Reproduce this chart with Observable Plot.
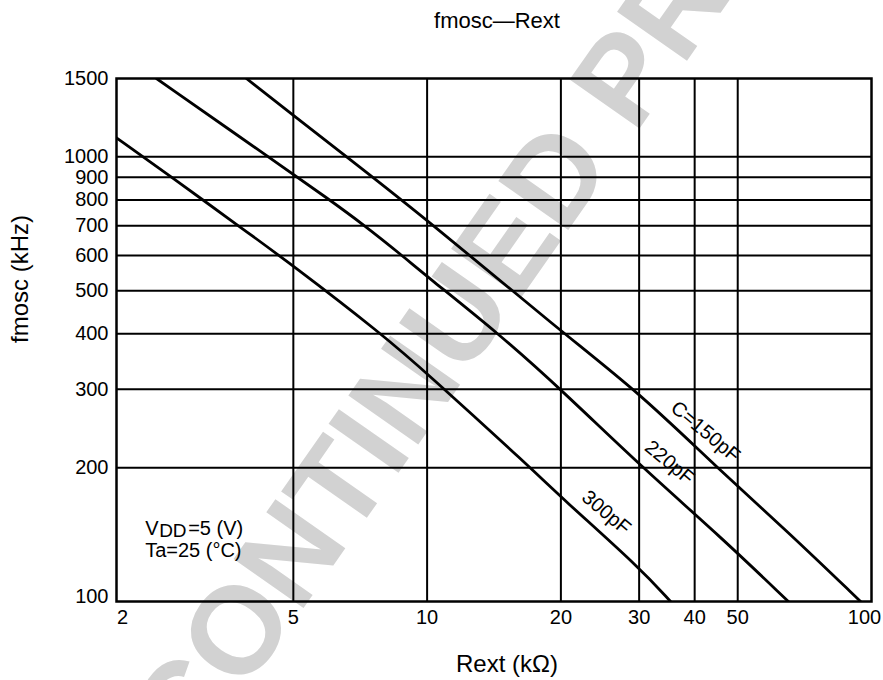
<!DOCTYPE html>
<html><head><meta charset="utf-8">
<script src="https://cdn.jsdelivr.net/npm/d3@7"></script>
<script src="https://cdn.jsdelivr.net/npm/@observablehq/plot@0.6"></script>
<style>html,body{margin:0;padding:0;background:#fff}svg{display:block}</style>
</head><body><div id="chart"></div>
<script>
// Curve data (Rext in kΩ, fmosc in kHz)
const c150R = [3.92, 5, 6.59, 10, 20, 30, 44.9, 64.6, 94.5];
const c150F = [1500, 1240, 1000, 722, 405, 295, 200, 144, 100];
const c220R = [2.46, 4.39, 6.04, 7.24, 8.78, 10, 14.5, 20, 30.5, 45.7, 65];
const c220F = [1500, 1000, 800, 700, 600, 538, 400, 300, 200, 140, 100];
const c300R = [2, 2.66, 3.76, 5, 7.89, 10, 17.08, 20, 30, 35.3];
const c300F = [1103, 900, 700, 569, 400, 326, 200, 171.6, 119.4, 100];
const seriesNames = ["150pF", "220pF", "300pF"];

// Axis ticks and grid
const xTicks = [2, 5, 10, 20, 30, 40, 50, 100];
const yTicks = [100, 200, 300, 400, 500, 600, 700, 800, 900, 1000, 1500];
const xGrid = [5, 10, 20, 30, 40, 50];
const yGrid = [200, 300, 400, 500, 600, 700, 800, 900, 1000];

// Curve labels
const curveLabels = ["C=150pF", "220pF", "300pF"];
const labelR = [42.3, 35.1, 25.3];
const labelF = [241, 205.4, 158.5];

// Conditions note
const noteR = [2.32];
const noteF1 = [146];
const noteF2 = [130];

// Texts
const titleText = "fmosc—Rext";
const xLabel = "Rext (kΩ)";
const yLabel = "fmosc (kHz)";
const stampText = ["DISCONTINUED PRODUCT"];
const stampR = [14.4];
const stampF = [580];

const rows = [];
[[c150R, c150F], [c220R, c220F], [c300R, c300F]].forEach(([R, F], k) => {
  R.forEach((r, i) => rows.push({c: seriesNames[k], r, f: F[i]}));
});

const font = "'Liberation Sans', Arial, Helvetica, sans-serif";
const fmt = d => String(d);
const axisOpts = {tickSize: 0, tickPadding: 8, fontSize: 20, tickFormat: fmt, label: null, fill: "#000"};

const chart = Plot.plot({
  width: 883, height: 680,
  marginLeft: 116, marginRight: 12, marginTop: 78, marginBottom: 79,
  style: {fontFamily: font, background: "#fff", color: "#000"},
  x: {type: "log", domain: [2, 100]},
  y: {type: "log", domain: [100, 1500]},
  marks: [
    Plot.text(stampText, {x: stampR, y: stampF, text: d => d, rotate: -55, fontSize: 124, fontWeight: "bold", fill: "#d2d2d2"}),
    Plot.ruleX(xGrid, {stroke: "#000", strokeWidth: 2}),
    Plot.ruleY(yGrid, {stroke: "#000", strokeWidth: 2}),
    Plot.frame({stroke: "#000", strokeWidth: 2.5}),
    Plot.line(rows, {x: "r", y: "f", z: "c", curve: "basis", stroke: "#000", strokeWidth: 2.8, clip: true}),
    Plot.axisX(xTicks.filter(d => d !== 2 && d !== 100), axisOpts),
    Plot.axisX([2], {...axisOpts, dx: 6}),
    Plot.axisX([100], {...axisOpts, dx: -7}),
    Plot.axisY(yTicks.filter(d => d !== 100), axisOpts),
    Plot.axisY([100], {...axisOpts, dy: -5}),
    Plot.text(curveLabels, {x: labelR, y: labelF, text: d => d, rotate: 40, fontSize: 20, fill: "#000"}),
    Plot.text(["V"], {x: noteR, y: noteF1, text: d => d, textAnchor: "start", fontSize: 20, fill: "#000"}),
    Plot.text(["DD"], {x: noteR, y: noteF1, text: d => d, textAnchor: "start", fontSize: 19, dx: 14, dy: 2, fill: "#000"}),
    Plot.text(["=5 (V)"], {x: noteR, y: noteF1, text: d => d, textAnchor: "start", fontSize: 20, dx: 43, fill: "#000"}),
    Plot.text(["Ta=25 (°C)"], {x: noteR, y: noteF2, text: d => d, textAnchor: "start", fontSize: 20, fill: "#000"}),
    Plot.text([titleText], {frameAnchor: "top", text: d => d, dx: 3, dy: -58, fontSize: 22, lineAnchor: "middle", fill: "#000"}),
    Plot.text([xLabel], {frameAnchor: "bottom", text: d => d, dx: 13, dy: 63, fontSize: 24, lineAnchor: "middle", fill: "#000"}),
    Plot.text([yLabel], {frameAnchor: "left", text: d => d, dx: -96, dy: 3, rotate: -90, fontSize: 24, lineAnchor: "middle", fill: "#000"})
  ]
});
document.getElementById("chart").append(chart);
</script>
</body></html>
